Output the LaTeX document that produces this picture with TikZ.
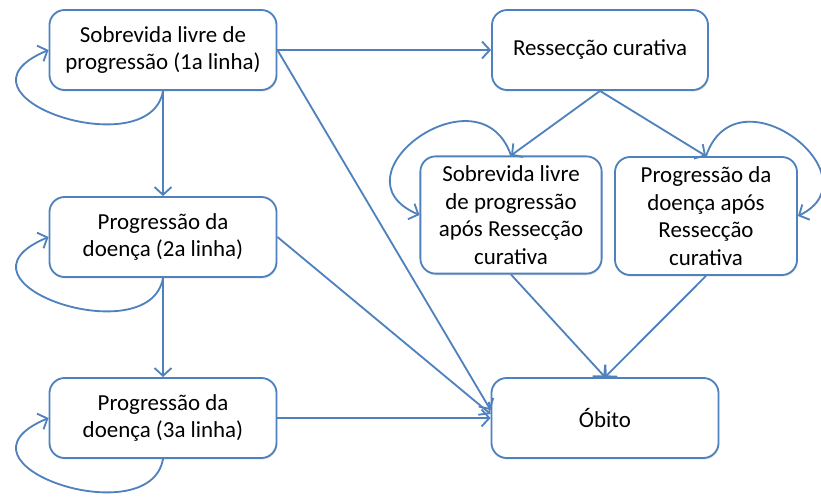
\documentclass[tikz,border=0pt]{standalone}
\usepackage{fontspec}
\setmainfont{Carlito}
\usetikzlibrary{arrows.meta,shadows}
\definecolor{azul}{RGB}{79,129,189}
\tikzset{
	caixa/.style={draw=azul, line width=1.3pt, rounded corners=0.38cm, fill=white, align=center, inner sep=2pt,
		drop shadow={opacity=0.2, shadow xshift=0.5pt, shadow yshift=-1.2pt}},
	seta/.style={draw=azul, line width=1.3pt, -{Straight Barb[length=5.5pt,width=12pt]}},
}
\begin{document}
\begin{tikzpicture}[x=0.025cm, y=0.025cm, every node/.style={font=\fontsize{16.3}{19.5}\selectfont}]
		\useasboundingbox (0,0) rectangle (821,496);
		% coluna da esquerda
		\node[caixa, minimum width=5.675cm, minimum height=2cm] (sob1) at (163,446) {Sobrevida livre de\\progressão (1a linha)};
		\node[caixa, minimum width=5.675cm, minimum height=2cm] (prog2) at (163,259) {Progressão da\\doença (2a linha)};
		\node[caixa, minimum width=5.675cm, minimum height=2cm] (prog3) at (163,78) {Progressão da\\doença (3a linha)};
		% lado direito
		\node[caixa, minimum width=5.4cm, minimum height=2cm] (ressec) at (600,446) {Ressecção curativa};
		\node[caixa, minimum width=4.53cm, minimum height=2.93cm] (sobRC) at (511,281) {Sobrevida livre\\de progressão\\após Ressecção\\curativa};
		\node[caixa, minimum width=4.55cm, minimum height=2.95cm] (progRC) at (706,280) {Progressão da\\doença após\\Ressecção\\curativa};
		\node[caixa, minimum width=5.675cm, minimum height=2cm] (obito) at (605,78) {Óbito};
		% transicoes
		\draw[seta] (sob1.south) -- (prog2.north);
		\draw[seta] (prog2.south) -- (prog3.north);
		\draw[seta] (sob1.east) -- (ressec.west);
		\draw[seta] (ressec.south) -- (sobRC.north);
		\draw[seta] (ressec.south) -- (progRC.north);
		\draw[seta] (sob1.east) -- (obito.176);
		\draw[seta] (prog2.east) -- (obito.178);
		\draw[seta] (prog3.east) -- (obito.west);
		\draw[seta] (sobRC.south) -- (obito.north);
		\draw[seta] (progRC.south) -- (obito.north);
		% permanencia no estado
		\foreach \n in {sob1, prog2, prog3} {
			\draw[seta] (\n.south) .. controls +(-13,-76) and +(-110,-46) .. (\n.west);
		}
		\draw[seta] (sobRC.north) .. controls +(-31,90) and +(-91,39) .. (sobRC.west);
		\draw[seta] (progRC.north) .. controls +(31,90) and +(80,39) .. (progRC.east);
	\end{tikzpicture}
\end{document}
